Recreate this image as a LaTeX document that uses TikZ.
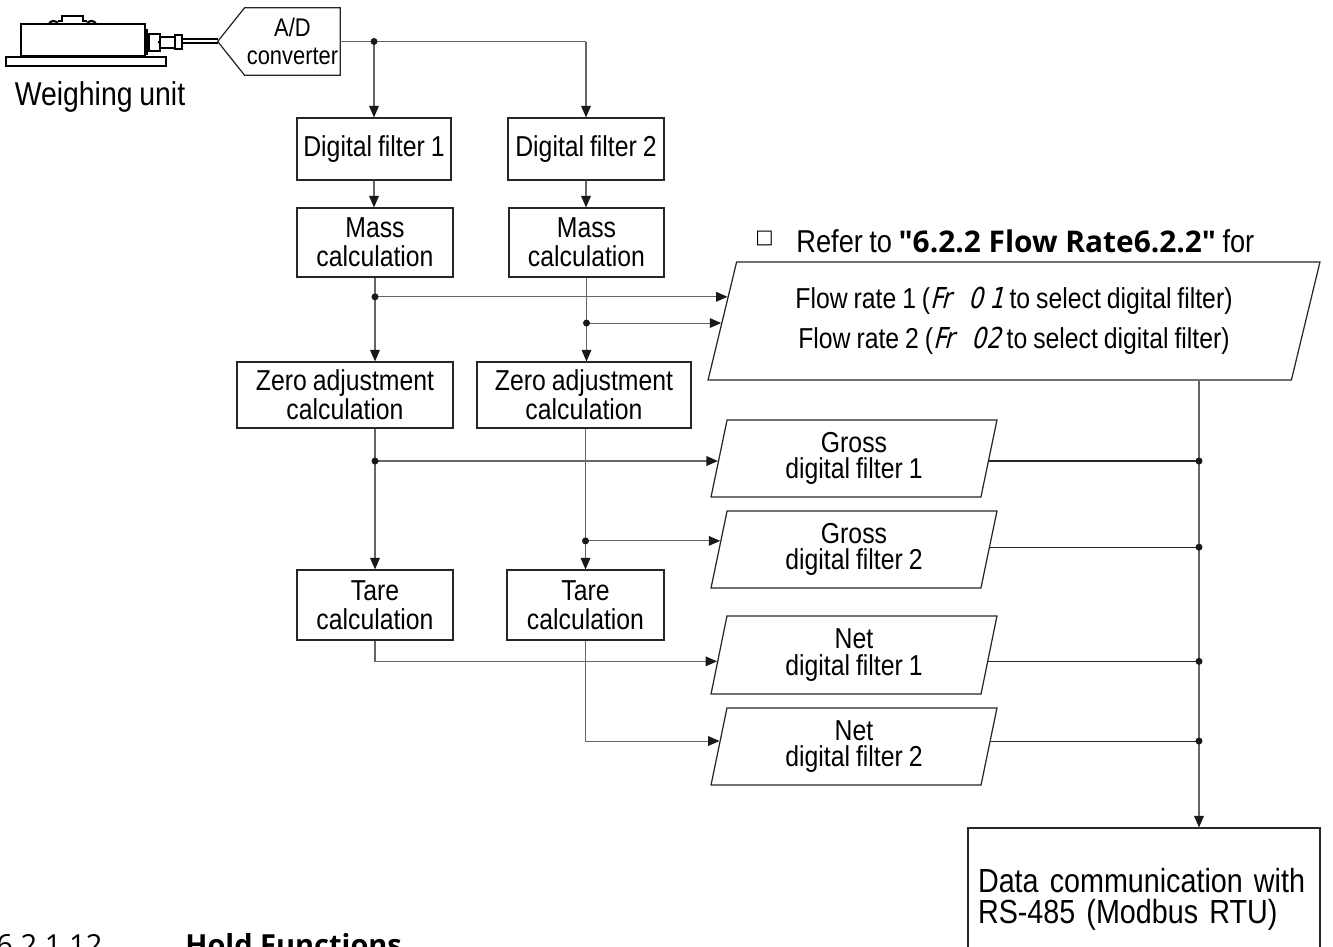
\documentclass[tikz,border=0pt]{standalone}
\usepackage{fontspec}
\setmainfont{Liberation Sans}[FakeStretch=0.86,WordSpace=0.86]
\newfontfamily\headfont{Open Sans}
\newfontfamily\symfont{DejaVu Sans}
\newfontfamily\segfont{DejaVu Sans}[FakeSlant=0.25,FakeStretch=0.8]
\usetikzlibrary{arrows.meta,positioning,calc,shapes.geometric}

% display characters as on the indicator
\newcommand{\segtxt}[1]{{\segfont #1}}

\begin{document}
\begin{tikzpicture}[
  x=0.02cm, y=-0.02cm,
  box/.style={draw=black!85, line width=0.7pt, minimum width=3.12cm, minimum height=1.38cm,
    align=center, inner sep=2pt, font=\fontsize{16.4}{16.6}\selectfont},
  io/.style={trapezium, trapezium left angle=73, trapezium right angle=107,
    trapezium stretches body, draw=black!85, line width=0.7pt,
    minimum width=5.72cm, minimum height=1.54cm, align=center, inner sep=0pt,
    font=\fontsize{16.4}{15}\selectfont},
  line/.style={draw=black!60, line width=0.6pt},
  arrow/.style={line, -{Triangle[length=6.5pt, width=5.5pt, color=black!90]}},
  dot/.style={circle, fill=black!90, inner sep=0pt, minimum size=0.14cm}
]
\useasboundingbox (0,0) rectangle (1333,947);

% weighing unit with its cable
\begin{scope}[line width=0.6pt]
  \draw (6,57) rectangle (166,66);
  \draw (21,24) rectangle (145,56);
  \draw[line width=1.2pt] (49,24) .. controls (50,20) and (57,20) .. (58,24);
  \draw (58,21) -- (62,21) -- (62,16) -- (83,16) -- (83,21) -- (87,21);
  \draw[line width=1.2pt] (87,24) .. controls (88,20) and (95,20) .. (96,24);
  \draw[line width=1.6pt] (147,29) -- (147,55);
  \draw (149,34) rectangle (160,51);
  \draw (160,37) rectangle (175,48);
  \draw (175,35) rectangle (182,49);
  \fill (159,42) circle (1.5);
\end{scope}
\node[anchor=base, inner sep=0, font=\fontsize{18.8}{18.8}\selectfont] (wu) at (100,105) {Weighing unit};

% A/D converter
\node[minimum width=1.9cm, minimum height=1.34cm, inner sep=0, align=center,
  font=\fontsize{14.5}{15.9}\selectfont] (ad) at (292.5,41.5) {A/D\\converter};
\coordinate (adtip) at ([xshift=-0.54cm]ad.west);
\draw[draw=black!85, line width=0.7pt] (ad.north west) -- (ad.north east) -- (ad.south east)
  -- (ad.south west) -- (adtip) -- cycle;
\draw[line width=0.6pt] (182,39) -- (adtip |- 0,39);
\draw[line width=0.6pt] (182,43) -- (adtip |- 0,43);

% two filter columns
\node[box, minimum width=3.08cm, minimum height=1.24cm] (df1) at (374,149) {Digital filter 1};
\node[box, minimum height=1.24cm] (df2) at (586,149) {Digital filter 2};
\node[box] (mass1) at (375,242.5) {Mass\\calculation};
\node[box, minimum width=3.1cm] (mass2) at (586.5,242.5) {Mass\\calculation};
\node[box, minimum width=4.32cm, minimum height=1.32cm] (zero1) at (345,395) {Zero adjustment\\calculation};
\node[box, minimum width=4.28cm, minimum height=1.32cm] (zero2) at (584,395) {Zero adjustment\\calculation};
\node[box, minimum height=1.4cm] (tare1) at (375,605) {Tare\\calculation};
\node[box, minimum width=3.14cm, minimum height=1.4cm] (tare2) at (585.5,605) {Tare\\calculation};

% outputs
\node[anchor=base west, inner sep=0, font=\fontsize{18}{18}\selectfont] (refer) at (755,252)
  {\raisebox{5pt}{\symfont\fontsize{11}{11}\selectfont □}\hspace{13pt}Refer to {\headfont\bfseries\fontsize{17}{17}\selectfont "6.2.2 Flow Rate6.2.2"} for};
\node[io, trapezium left angle=67, trapezium right angle=113, minimum width=12.24cm,
  minimum height=2.36cm, font=\fontsize{16.4}{22.7}\selectfont] (flow) at (1014,321)
  {Flow rate 1 (\segtxt{Fr\hspace{0.6em}0\hspace{0.2em}1} to select digital filter)\\
   Flow rate 2 (\segtxt{Fr\hspace{0.6em}02} to select digital filter)};
\node[io] (g1) at (854,458.5) {Gross\\digital filter 1};
\node[io] (g2) at (854,549.5) {Gross\\digital filter 2};
\node[io, minimum height=1.56cm] (n1) at (854,655) {Net\\digital filter 1};
\node[io] (n2) at (854,746.5) {Net\\digital filter 2};
\node[box, minimum width=7.04cm, minimum height=2.84cm, text width=6.64cm, align=left,
  font=\fontsize{19}{17.6}\selectfont] (rs) at (1144,899) {Data communication with\\RS-485 (Modbus RTU)};

% next section heading
\node[anchor=base west, inner sep=0, font=\headfont\fontsize{16.5}{16.5}\selectfont] (secnum) at (-4,955) {6.2.1.12};
\node[anchor=base west, inner sep=0, font=\headfont\bfseries\fontsize{16.5}{16.5}\selectfont] (sectitle) at (185,955) {Hold Functions};

% entry points on the slanted edges
\coordinate (inA) at ($(flow.bottom left corner)!0.703!(flow.top left corner)$);
\coordinate (inB) at ($(flow.bottom left corner)!0.483!(flow.top left corner)$);
\coordinate (inG1) at ($(g1.bottom left corner)!0.468!(g1.top left corner)$);
\coordinate (inG2) at ($(g2.bottom left corner)!0.61!(g2.top left corner)$);
\coordinate (inN1) at ($(n1.bottom left corner)!0.42!(n1.top left corner)$);
\coordinate (inN2) at ($(n2.bottom left corner)!0.57!(n2.top left corner)$);
\coordinate (outG1) at ($(g1.bottom right corner)!0.468!(g1.top right corner)$);
\coordinate (outG2) at ($(g2.bottom right corner)!0.53!(g2.top right corner)$);
\coordinate (outN1) at ($(n1.bottom right corner)!0.42!(n1.top right corner)$);
\coordinate (outN2) at ($(n2.bottom right corner)!0.57!(n2.top right corner)$);
\coordinate (bus) at (1199,0);

% A/D to the filters
\draw[line] (ad.east) -- (ad.east -| df2.north);
\draw[arrow] (ad.east -| df1.north) -- (df1.north);
\draw[arrow] (ad.east -| df2.north) -- (df2.north);
\node[dot] at (ad.east -| df1.north) {};

% down the columns
\draw[arrow] (df1.south) -- (df1.south |- mass1.north);
\draw[arrow] (df2.south) -- (df2.south |- mass2.north);
\draw[arrow] (mass1.south) -- (mass1.south |- zero1.north);
\draw[arrow] (mass2.south) -- (mass2.south |- zero2.north);
\draw[arrow] (tare1.north |- zero1.south) -- (tare1.north);
\draw[arrow] (tare2.north |- zero2.south) -- (tare2.north);

% branches to the outputs
\draw[arrow] (mass1.south |- inA) -- (inA);
\draw[arrow] (mass2.south |- inB) -- (inB);
\draw[arrow] (tare1.north |- inG1) -- (inG1);
\draw[arrow] (tare2.north |- inG2) -- (inG2);
\draw[arrow] (tare1.south) |- (inN1);
\draw[arrow] (tare2.south) |- (inN2);
\node[dot] at (mass1.south |- inA) {};
\node[dot] at (mass2.south |- inB) {};
\node[dot] at (tare1.north |- inG1) {};
\node[dot] at (tare2.north |- inG2) {};

% collecting bus
\draw[arrow] (flow.south -| bus) -- (rs.north -| bus);
\foreach \o in {outG1,outG2,outN1,outN2} {
  \draw[line, draw=black!85] (\o) -- (\o -| bus);
  \node[dot] at (\o -| bus) {};
}
\end{tikzpicture}
\end{document}
